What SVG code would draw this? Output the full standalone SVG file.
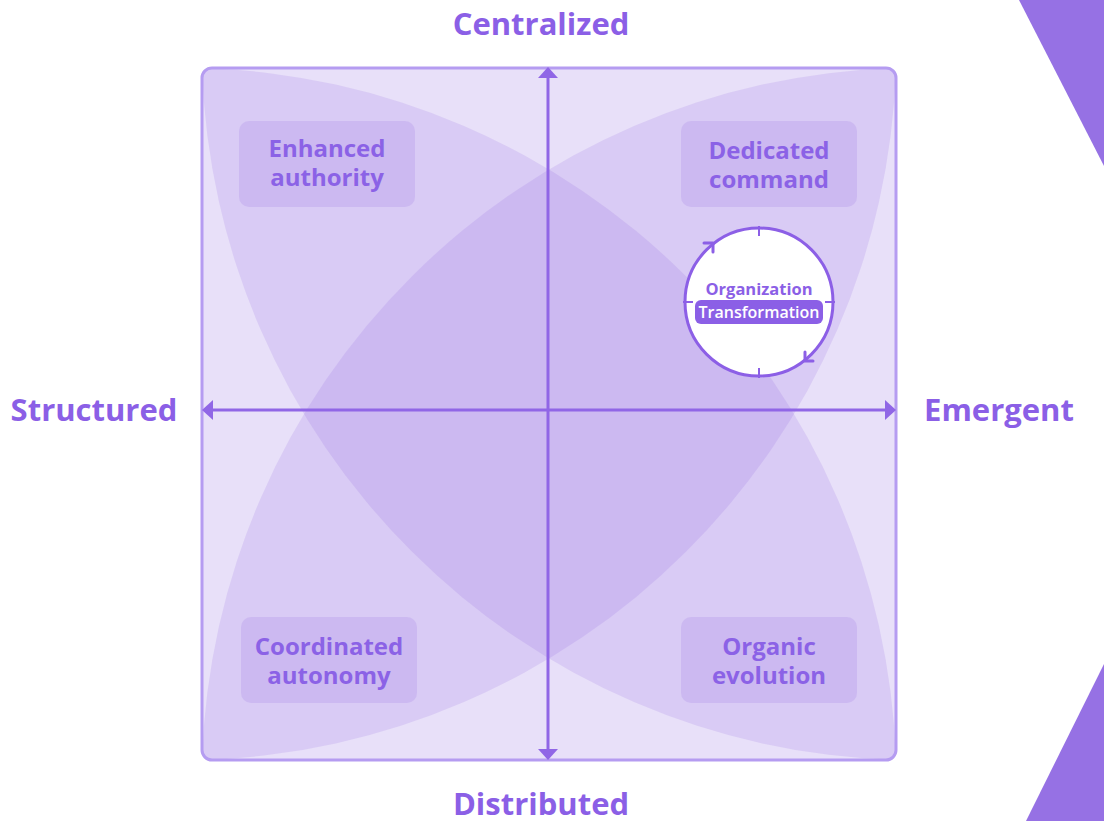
<svg xmlns="http://www.w3.org/2000/svg" width="1104" height="821" viewBox="0 0 1104 821">
  <style>
    .axis-label { font-family: "Open Sans", "Liberation Sans", sans-serif; font-weight: 700; font-size: 31px; fill: #8b5fe6; text-anchor: middle; }
    .quad-label { font-family: "Open Sans", "Liberation Sans", sans-serif; font-weight: 700; font-size: 24px; fill: #8b62e6; text-anchor: middle; }
    .quad-box { fill: #835ade; fill-opacity: 0.15; }
    .lens { fill: #835ade; fill-opacity: 0.15; }
    .axis { stroke: #9066e6; stroke-width: 3; fill: none; }
    .ring { fill: #ffffff; stroke: #8c5fe6; stroke-width: 3; }
    .tick { stroke: #8c5fe6; stroke-width: 2; }
    .chev { fill: none; stroke: #8c5fe6; stroke-width: 3; stroke-linecap: round; stroke-linejoin: round; }
  </style>
  <defs>
    <clipPath id="frameClip">
      <rect x="202" y="68" width="694" height="692" rx="10" ry="10"/>
    </clipPath>
    <marker id="tri" viewBox="0 0 11 20" refX="8" refY="10" markerWidth="11" markerHeight="20" orient="auto-start-reverse" markerUnits="userSpaceOnUse">
      <path d="M0,0 L11,10 L0,20 Z" fill="#9066e6"/>
    </marker>
  </defs>

  <rect width="1104" height="821" fill="#ffffff"/>

  <!-- corner wedges on the right edge -->
  <polygon points="1019,0 1104,0 1104,166" fill="#9671e4"/>
  <polygon points="1104,664 1104,821 1026,821" fill="#9671e4"/>

  <!-- frame and overlapping lenses -->
  <g id="frame">
    <rect x="202" y="68" width="694" height="692" rx="10" ry="10" fill="#e8e0f9"/>
    <g clip-path="url(#frameClip)">
      <path class="lens" d="M202,68 A715,715 0 0 1 896,760 A715,715 0 0 1 202,68 Z"/>
      <path class="lens" d="M896,68 A715,715 0 0 1 202,760 A715,715 0 0 1 896,68 Z"/>
    </g>
    <rect x="202" y="68" width="694" height="692" rx="10" ry="10" fill="none" stroke="#b59cf1" stroke-width="3"/>
  </g>

  <!-- axes -->
  <g id="connectors">
    <line class="axis" x1="548" y1="757" x2="548" y2="70" marker-start="url(#tri)" marker-end="url(#tri)"/>
    <line class="axis" x1="205" y1="410" x2="893" y2="410" marker-start="url(#tri)" marker-end="url(#tri)"/>
  </g>

  <!-- axis labels -->
  <g id="label-centralized"><text class="axis-label" x="541" y="35">Centralized</text></g>
  <g id="label-distributed"><text class="axis-label" x="541" y="815">Distributed</text></g>
  <g id="label-structured"><text class="axis-label" x="94" y="421">Structured</text></g>
  <g id="label-emergent"><text class="axis-label" x="999" y="421">Emergent</text></g>

  <!-- quadrant labels -->
  <g id="q-enhanced-authority">
    <rect class="quad-box" x="239" y="121" width="176" height="86" rx="10"/>
    <text class="quad-label" x="327" y="157">Enhanced</text>
    <text class="quad-label" x="327" y="186">authority</text>
  </g>
  <g id="q-dedicated-command">
    <rect class="quad-box" x="681" y="121" width="176" height="86" rx="10"/>
    <text class="quad-label" x="769" y="159">Dedicated</text>
    <text class="quad-label" x="769" y="188">command</text>
  </g>
  <g id="q-coordinated-autonomy">
    <rect class="quad-box" x="241" y="617" width="176" height="86" rx="10"/>
    <text class="quad-label" x="329" y="655">Coordinated</text>
    <text class="quad-label" x="329" y="684">autonomy</text>
  </g>
  <g id="q-organic-evolution">
    <rect class="quad-box" x="681" y="617" width="176" height="86" rx="10"/>
    <text class="quad-label" x="769" y="655">Organic</text>
    <text class="quad-label" x="769" y="684">evolution</text>
  </g>

  <!-- transformation cycle badge -->
  <g id="org-transformation">
    <circle class="ring" cx="759" cy="302" r="74"/>
    <line class="tick" x1="759" y1="226" x2="759" y2="236"/>
    <line class="tick" x1="759" y1="378" x2="759" y2="368"/>
    <line class="tick" x1="683" y1="302" x2="693" y2="302"/>
    <line class="tick" x1="835" y1="302" x2="825" y2="302"/>
    <polyline class="chev" points="704,243 713,243 713,252"/>
    <polyline class="chev" points="813,361 805,361 805,352"/>
    <text x="759" y="295" text-anchor="middle" font-family="'Open Sans', 'Liberation Sans', sans-serif" font-weight="700" font-size="16.5" fill="#8b5fe6">Organization</text>
    <rect x="695" y="300" width="128" height="24" rx="6" fill="#8b5fe6"/>
    <text x="759" y="318" text-anchor="middle" font-family="'Open Sans', 'Liberation Sans', sans-serif" font-weight="600" font-size="16" fill="#ffffff">Transformation</text>
  </g>
</svg>
